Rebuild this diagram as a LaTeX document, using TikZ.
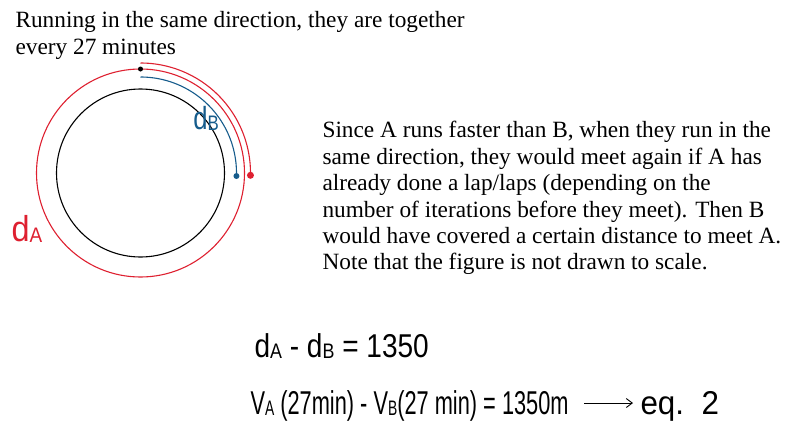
\documentclass[tikz,border=0pt]{standalone}
\usepackage{fontspec}
\setmainfont{Liberation Serif}
\newfontfamily\handfont{Liberation Sans}
\usetikzlibrary{arrows.meta, calc}

\definecolor{lapred}{RGB}{222,32,48}
\definecolor{lapblue}{RGB}{22,92,140}

% narrow "handwritten" text and its low subscripts
\newcommand{\hand}[2][0.66]{\scalebox{#1}[1]{#2}}
\newcommand{\lowsub}[1]{\raisebox{-1pt}{\fontsize{21}{21}\selectfont #1}}

\begin{document}
\begin{tikzpicture}[x=1pt, y=-1pt, line width=1.1pt]
  \tikzset{
    note/.style={anchor=north west, align=left, inner sep=0pt,
      font=\fontsize{23.3}{26.4}\selectfont},
    hand/.style={anchor=base west, inner sep=0pt,
      font=\handfont\fontsize{33}{35}\selectfont},
    dot/.style={circle, fill=#1, inner sep=0pt, minimum size=6pt}
  }
  \useasboundingbox (0,0) rectangle (795,434);

  % track and laps
  \coordinate (O) at (140.5,173);
  \draw (O) circle[radius=84];
  \draw[lapred] (O) circle[radius=104];
  \draw[lapred] ($(O)+(0,-110)$) arc[start angle=-90, end angle=1.2, radius=110]
    coordinate (endA);
  \draw[lapblue] ($(O)+(0,-96)$) arc[start angle=-90, end angle=1.8, radius=96]
    coordinate (endB);
  \node[dot=black, minimum size=5pt] (start) at ($(O)+(0,-104)$) {};
  \node[dot=lapred, minimum size=7pt] (runA) at (endA) {};
  \node[dot=lapblue] (runB) at (endB) {};

  % distance labels
  \node[hand, anchor=center, text=lapblue, font=\handfont\fontsize{32}{32}\selectfont]
    (labB) at (206,118) {\hand[0.8]{d\lowsub{B}}};
  \node[hand, anchor=center, text=lapred, font=\handfont\fontsize{36}{36}\selectfont]
    (labA) at (27,229) {\hand[0.9]{d\lowsub{A}}};

  % texts
  \node[note] (title) at (15,11)
    {Running in the same direction, they are together\\every 27 minutes};
  \node[note] (expl) at (322,121)
    {Since A runs faster than B, when they run in the\\
     same direction, they would meet again if A has\\
     already done a lap/laps (depending on the\\
     number of iterations before they meet). Then B\\
     would have covered a certain distance to meet A.\\
     Note that the figure is not drawn to scale.};

  % equations
  \node[hand] (eqdist) at (254,357) {\hand[0.85]{d\lowsub{A} - d\lowsub{B} = 1350}};
  \node[hand] (eqspeed) at (250,414)
    {\hand{V\lowsub{A} (27min) - V\lowsub{B}(27 min) = 1350m}};
  \node[hand] (eqref) at (640,414) {\hand[0.95]{eq.\ \ 2}};
  \draw[line width=0.9pt, -{Straight Barb[length=6pt, width=9pt]}]
    ([xshift=15pt, yshift=11pt]eqspeed.base east) -- ([xshift=-7pt, yshift=11pt]eqref.base west);
\end{tikzpicture}
\end{document}
